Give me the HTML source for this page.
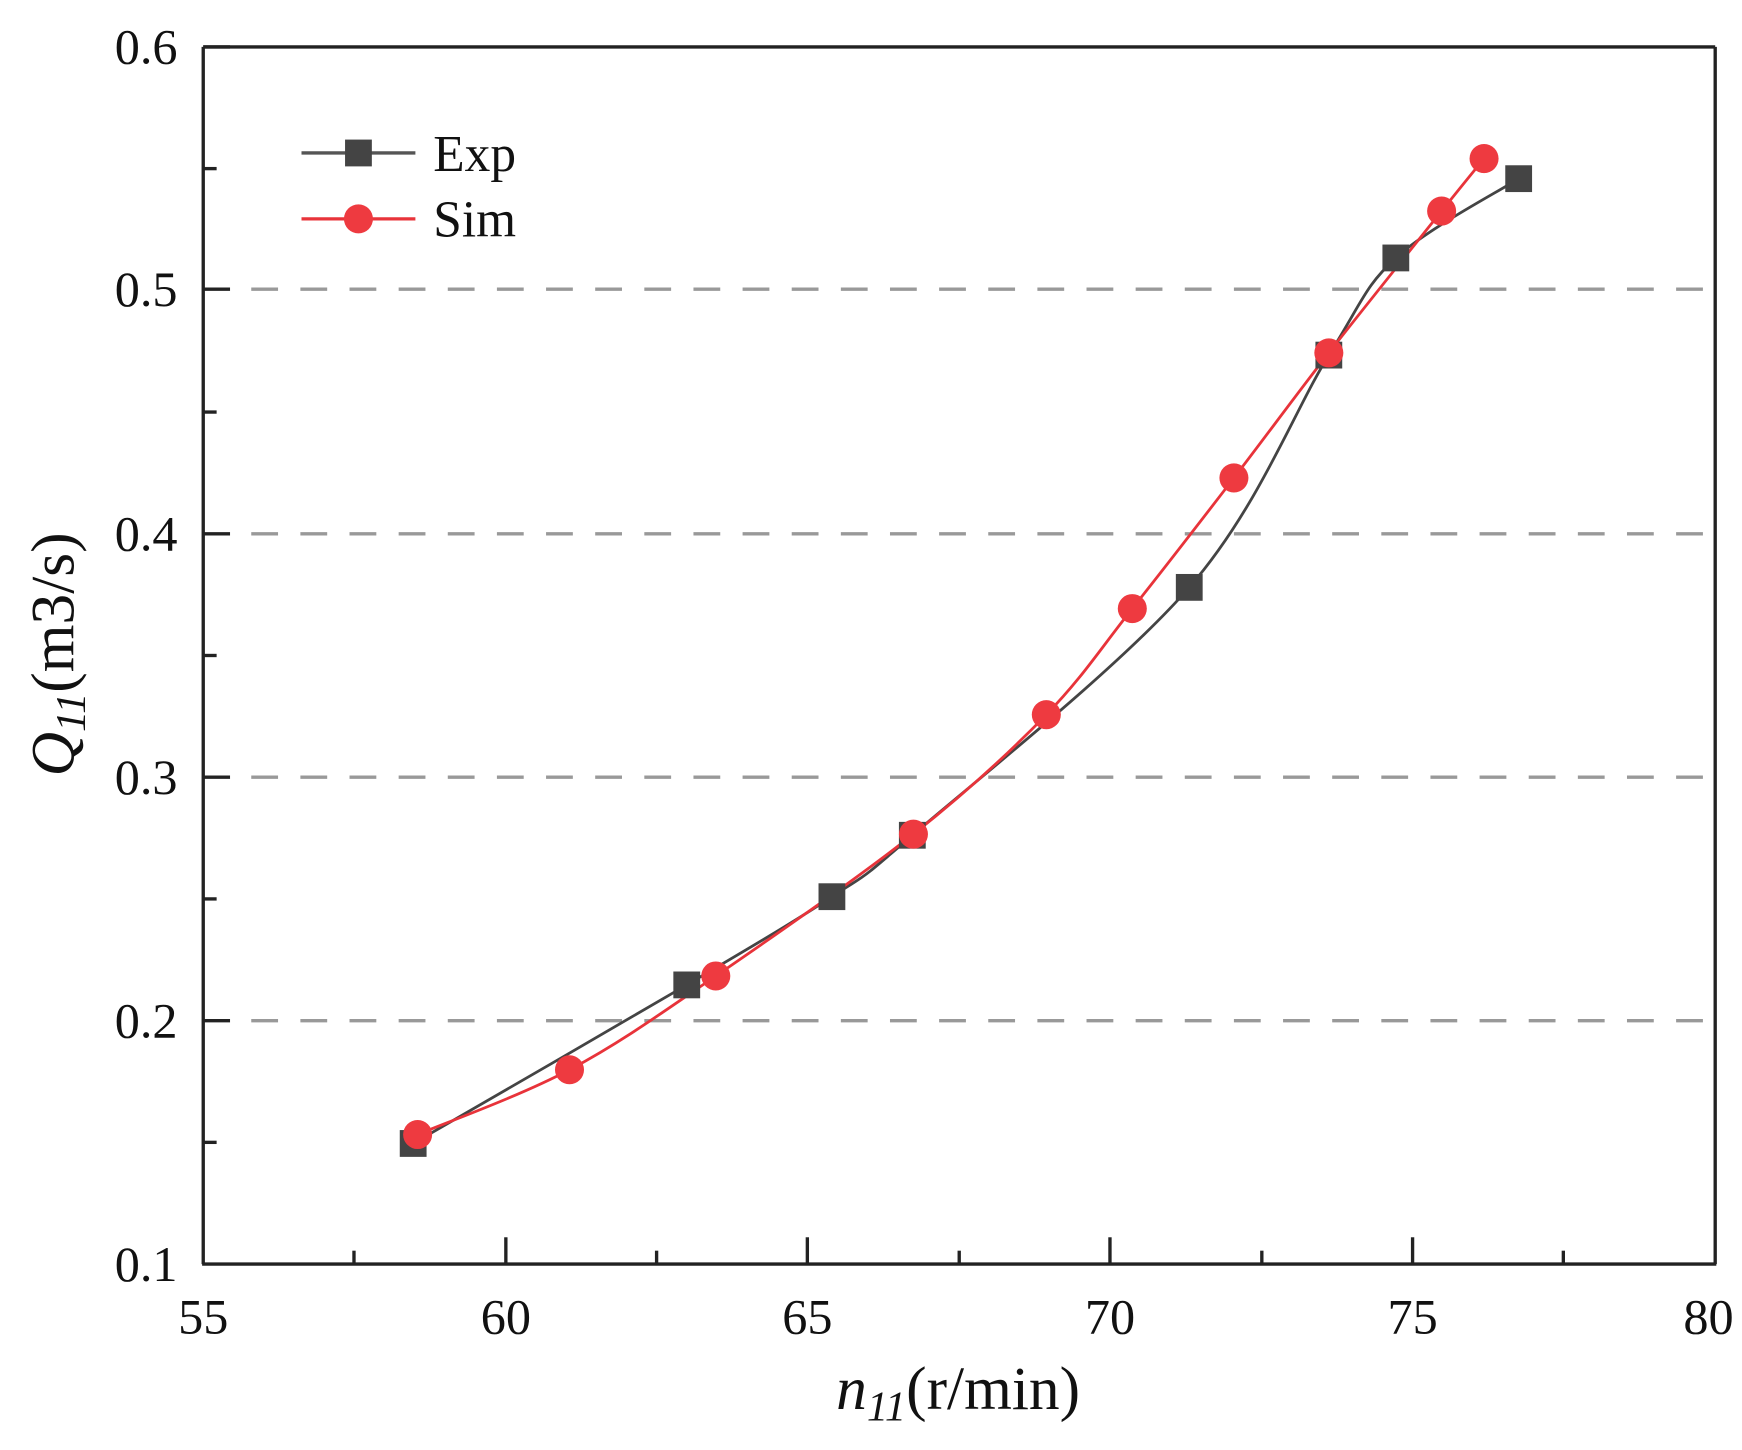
<!DOCTYPE html>
<html><head><meta charset="utf-8"><style>
html,body{margin:0;padding:0;background:#fff;width:1742px;height:1450px;overflow:hidden}
svg{display:block}
text{font-family:"Liberation Serif",serif;fill:#111}
</style></head><body>
<svg width="1742" height="1450" viewBox="0 0 1560 1298.5" preserveAspectRatio="none" xmlns="http://www.w3.org/2000/svg">
<g stroke="#999" stroke-width="3" stroke-dasharray="24,20">
<line x1="225" y1="259" x2="1534" y2="259"/>
<line x1="225" y1="478" x2="1534" y2="478"/>
<line x1="225" y1="696" x2="1534" y2="696"/>
<line x1="225" y1="914" x2="1534" y2="914"/>
</g>
<g stroke="#222" stroke-width="3">
<line x1="182" y1="42" x2="182" y2="1132"/>
<line x1="182" y1="42" x2="1536" y2="42"/>
<line x1="1536" y1="42" x2="1536" y2="1132"/>
<line x1="181" y1="1132" x2="1537" y2="1132"/>
<line x1="182" y1="42" x2="206" y2="42"/><line x1="182" y1="259" x2="206" y2="259"/>
<line x1="182" y1="478" x2="206" y2="478"/><line x1="182" y1="696" x2="206" y2="696"/>
<line x1="182" y1="914" x2="206" y2="914"/>
<line x1="182" y1="151" x2="194" y2="151"/><line x1="182" y1="369" x2="194" y2="369"/>
<line x1="182" y1="587" x2="194" y2="587"/><line x1="182" y1="805" x2="194" y2="805"/>
<line x1="182" y1="1023" x2="194" y2="1023"/>
<line x1="453" y1="1132" x2="453" y2="1108"/><line x1="723" y1="1132" x2="723" y2="1108"/>
<line x1="994" y1="1132" x2="994" y2="1108"/><line x1="1265" y1="1132" x2="1265" y2="1108"/>
<line x1="317" y1="1132" x2="317" y2="1120"/><line x1="588" y1="1132" x2="588" y2="1120"/>
<line x1="859" y1="1132" x2="859" y2="1120"/><line x1="1130" y1="1132" x2="1130" y2="1120"/>
<line x1="1400" y1="1132" x2="1400" y2="1120"/>
</g>
<g font-size="45" text-anchor="end">
<text x="159" y="57">0.6</text><text x="159" y="274">0.5</text><text x="159" y="493">0.4</text>
<text x="159" y="711">0.3</text><text x="159" y="929">0.2</text><text x="159" y="1147">0.1</text>
</g>
<g font-size="45" text-anchor="middle">
<text x="182" y="1194">55</text><text x="453" y="1194">60</text><text x="723" y="1194">65</text>
<text x="994" y="1194">70</text><text x="1265" y="1194">75</text><text x="1530" y="1194">80</text>
</g>
<text x="858" y="1262" font-size="55" text-anchor="middle"><tspan font-style="italic">n</tspan><tspan font-style="italic" font-size="38" dy="10">11</tspan><tspan dy="-10">(r/min)</tspan></text>
<text transform="translate(66,586) rotate(-90)" font-size="55" text-anchor="middle"><tspan font-style="italic">Q</tspan><tspan font-style="italic" font-size="38" dy="10">11</tspan><tspan dy="-10">(m3/s)</tspan></text>
<path id="pe" fill="none" stroke="#444" stroke-width="2.5"/>
<path id="ps" fill="none" stroke="#e8333a" stroke-width="2.5"/>
<g id="me" fill="#444"></g>
<g id="ms" fill="#ee3a40"></g>
<line x1="270" y1="137" x2="372" y2="137" stroke="#555" stroke-width="3"/>
<rect x="309" y="125" width="24" height="24" fill="#444"/>
<text x="388" y="153" font-size="46">Exp</text>
<line x1="270" y1="196" x2="372" y2="196" stroke="#e8333a" stroke-width="3"/>
<circle cx="321" cy="196" r="13" fill="#ee3a40"/>
<text x="388" y="212" font-size="46">Sim</text>
</svg>
<script>
var E=[[370,1024],[615,882],[745,803],[817,748],[1065,526],[1190,318],[1250,231],[1360,160]];
var S=[[374,1016],[510,958],[641,874],[818,747],[937,640],[1014,545],[1105,428],[1190,316],[1291,189],[1329,142]];
function cr(p){var d="M"+p[0][0]+","+p[0][1];for(var i=0;i<p.length-1;i++){var a=p[i-1]||p[i],b=p[i],c=p[i+1],e=p[i+2]||c;
d+=" C"+(b[0]+(c[0]-a[0])/6)+","+(b[1]+(c[1]-a[1])/6)+" "+(c[0]-(e[0]-b[0])/6)+","+(c[1]-(e[1]-b[1])/6)+" "+c[0]+","+c[1];}return d;}
document.getElementById("pe").setAttribute("d",cr(E));
document.getElementById("ps").setAttribute("d",cr(S));
var ns="http://www.w3.org/2000/svg",me=document.getElementById("me"),ms=document.getElementById("ms");
E.forEach(function(p){var r=document.createElementNS(ns,"rect");r.setAttribute("x",p[0]-12);r.setAttribute("y",p[1]-12);r.setAttribute("width",24);r.setAttribute("height",24);me.appendChild(r);});
S.forEach(function(p){var c=document.createElementNS(ns,"circle");c.setAttribute("cx",p[0]);c.setAttribute("cy",p[1]);c.setAttribute("r",13);ms.appendChild(c);});
</script>
</body></html>
